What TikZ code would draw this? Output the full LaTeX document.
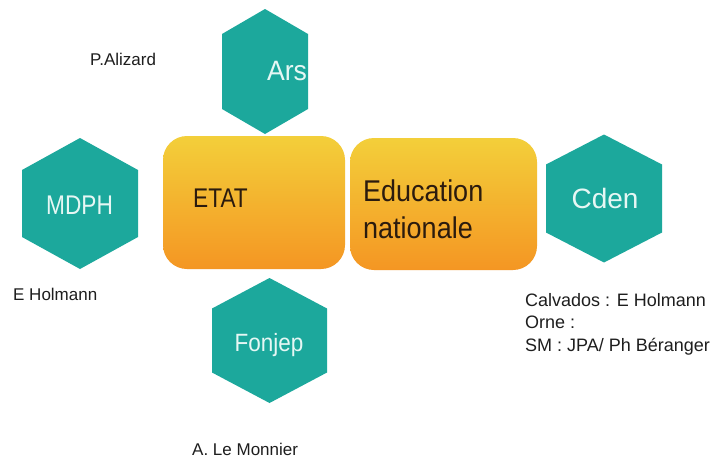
\documentclass[tikz,border=0pt]{standalone}
\usepackage{fontspec}
\setmainfont{Liberation Sans}
\newfontfamily\fA[FakeStretch=0.84]{Liberation Sans}
\newfontfamily\fB[FakeStretch=0.9]{Liberation Sans}
\newfontfamily\fC[FakeStretch=0.95]{Liberation Sans}
\definecolor{teal1}{RGB}{28,168,156}
\definecolor{hextext}{RGB}{230,247,244}
\definecolor{gtop}{RGB}{243,207,58}
\definecolor{gbot}{RGB}{244,150,35}
\definecolor{recttext}{RGB}{43,27,14}
\definecolor{labeltext}{RGB}{30,30,30}
\tikzset{
  hexfill/.style={fill=teal1},
  boxfill/.style={top color=gtop, bottom color=gbot, rounded corners=24pt},
  hexlabel/.style={inner sep=0, anchor=base, text=hextext},
  boxlabel/.style={inner sep=0, anchor=base west, text=recttext},
  namelabel/.style={inner sep=0, anchor=base west, text=labeltext, font=\fontsize{17}{21}\selectfont},
}
\begin{document}
\begin{tikzpicture}[x=1pt,y=-1pt]
\useasboundingbox (0,0) rectangle (717,463);
\fill[white] (0,0) rectangle (717,463);
% hexagons
\fill[hexfill] (265,71.5) ++(0,-62.5) -- ++(43,25) -- ++(0,75) -- ++(-43,25) -- ++(-43,-25) -- ++(0,-75) -- cycle;
\fill[hexfill] (80,203.5) ++(0,-65.5) -- ++(58,32) -- ++(0,67) -- ++(-58,32) -- ++(-58,-32) -- ++(0,-67) -- cycle;
\fill[hexfill] (604,198.5) ++(0,-64) -- ++(58,30) -- ++(0,68) -- ++(-58,30) -- ++(-58,-30) -- ++(0,-68) -- cycle;
\fill[hexfill] (269.5,340.5) ++(0,-62.5) -- ++(57.5,30.5) -- ++(0,64) -- ++(-57.5,30.5) -- ++(-57.5,-30.5) -- ++(0,-64) -- cycle;
% boxes
\shade[boxfill] (163,136) rectangle (345,269);
\shade[boxfill] (350,138) rectangle (537,270);
% box texts
\node[boxlabel, font=\fA\fontsize{27}{32}\selectfont] (etat) at (193,207) {ETAT};
\node[boxlabel, font=\fB\fontsize{30}{37}\selectfont, align=left] (edu) at (363,238) {Education\\nationale};
% hex texts
\node[hexlabel, font=\fC\fontsize{28}{32}\selectfont] (ars) at (287,80) {Ars};
\node[hexlabel, font=\fA\fontsize{27}{32}\selectfont] (mdph) at (79.5,214) {MDPH};
\node[hexlabel, font=\fontsize{28}{32}\selectfont] (cden) at (605,208) {Cden};
\node[hexlabel, font=\fB\fontsize{25}{30}\selectfont] (fonjep) at (269,351) {Fonjep};
% names
\node[namelabel] (alizard) at (90,65) {P.Alizard};
\node[namelabel] (holmann) at (13,300) {E Holmann};
\node[namelabel, font=\fontsize{18}{22.5}\selectfont, align=left] (calvados) at (525,351) {Calvados : E Holmann\\Orne :\\SM : JPA/ Ph Béranger};
\node[namelabel] (monnier) at (192,455) {A. Le Monnier};
\end{tikzpicture}
\end{document}
